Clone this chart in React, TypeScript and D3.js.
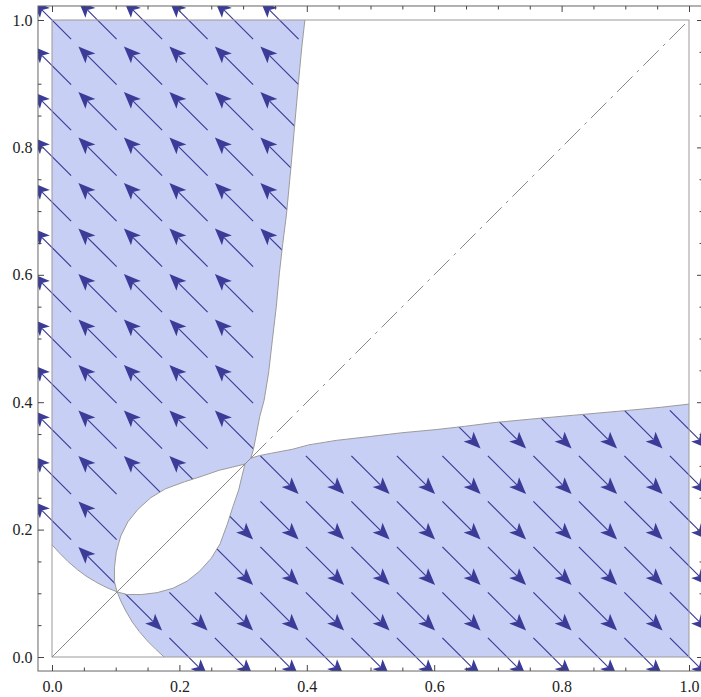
import React, { useEffect, useRef } from 'react';
import * as d3 from 'd3';

type Pt = [number, number];

// Region boundary (data coords). The picture is symmetric in y = x,
// the other half is the same curves with x and y swapped.
// upper curve: from the node on the diagonal up to the top edge
const upperCurve: Pt[] = [
    [0.312, 0.312], [0.316, 0.325], [0.320, 0.345], [0.326, 0.377], [0.333, 0.403],
    [0.340, 0.446], [0.346, 0.498], [0.352, 0.549], [0.357, 0.603], [0.362, 0.647],
    [0.368, 0.694], [0.375, 0.768], [0.380, 0.824], [0.387, 0.903], [0.392, 0.956],
    [0.397, 1.0]
];
// loop, lower-right side: from the lower crossing to the tip of the loop
const loopCurve: Pt[] = [
    [0.103, 0.102], [0.118, 0.098], [0.140, 0.098], [0.165, 0.101], [0.190, 0.108],
    [0.212, 0.119], [0.232, 0.135], [0.250, 0.155], [0.264, 0.178], [0.275, 0.208],
    [0.284, 0.236], [0.293, 0.262], [0.298, 0.283], [0.303, 0.303]
];
// lower-left curve: from the left edge down to the lower crossing
const cornerCurve: Pt[] = [
    [0.0, 0.176], [0.012, 0.163], [0.025, 0.150], [0.040, 0.137], [0.055, 0.126],
    [0.072, 0.116], [0.088, 0.108], [0.103, 0.102]
];

// VectorPoints grid (15 x 15) and frame ticks
const vectorPoints = d3.range(15).map(i => i / 14);
const majorTicks = [0, 0.2, 0.4, 0.6, 0.8, 1.0];
const tickLabels = ['0.0', '0.2', '0.4', '0.6', '0.8', '1.0'];
const minorTicks = [0.05, 0.1, 0.15, 0.25, 0.3, 0.35, 0.45, 0.5, 0.55, 0.65, 0.7, 0.75, 0.85, 0.9, 0.95];

const swap = (pts: Pt[]): Pt[] => pts.map(([a, b]) => [b, a] as Pt);

const App = () => {
    const svgRef = useRef<SVGSVGElement>(null);

    useEffect(() => {
        const width = 701;
        const height = 697;
        const pad = 0.022;
        const arrowHalf = 0.03;

        const fill = '#c8cff4';
        const arrowColor = '#3b3b98';
        const edgeColor = '#9a9a9a';

        const svg = d3.select(svgRef.current);
        svg.selectAll('*').remove();
        svg.attr('width', width).attr('height', height);

        const x = d3.scaleLinear().domain([0, 1]).range([52, 689]);
        const y = d3.scaleLinear().domain([0, 1]).range([657, 20]);

        const fx0 = x(-pad), fx1 = x(1 + pad);
        const fy0 = y(1 + pad), fy1 = y(-pad);

        const line = d3.line<Pt>().x(d => x(d[0])).y(d => y(d[1]));

        const loopLeft = swap(loopCurve).reverse(); // tip -> crossing
        const upperLeft: Pt[] = [
            [0, 1],
            ...upperCurve.slice().reverse(),
            ...loopLeft,
            ...cornerCurve.slice().reverse()
        ];
        const lowerRight = swap(upperLeft);

        const wedge: Pt[] = [...upperCurve, [1, 1], ...swap(upperCurve).reverse()];
        const loop: Pt[] = [...loopCurve, ...loopLeft];
        const corner: Pt[] = [[0, 0], ...cornerCurve, ...swap(cornerCurve).reverse()];

        svg.append('defs').append('clipPath').attr('id', 'frame-clip')
            .append('rect')
            .attr('x', fx0).attr('y', fy0)
            .attr('width', fx1 - fx0).attr('height', fy1 - fy0);

        // shaded region
        [upperLeft, lowerRight].forEach(poly => {
            svg.append('path')
                .attr('d', line(poly) + 'Z')
                .attr('fill', fill)
                .attr('stroke', 'none');
        });

        // arrows
        const arrows: { gx: number; gy: number; dir: number }[] = [];
        vectorPoints.forEach(gx => {
            vectorPoints.forEach(gy => {
                const p: Pt = [Math.min(Math.max(gx, 0.001), 0.999), Math.min(Math.max(gy, 0.001), 0.999)];
                if (d3.polygonContains(upperLeft, p)) arrows.push({ gx, gy, dir: -1 });
                else if (d3.polygonContains(lowerRight, p)) arrows.push({ gx, gy, dir: 1 });
            });
        });

        const arrowGroup = svg.append('g').attr('clip-path', 'url(#frame-clip)');
        const headLen = 17;
        const headHalf = 7;
        const notch = 13;
        arrows.forEach(a => {
            const sx = x(a.gx - a.dir * arrowHalf);
            const sy = y(a.gy + a.dir * arrowHalf);
            const tx = x(a.gx + a.dir * arrowHalf);
            const ty = y(a.gy - a.dir * arrowHalf);
            const len = Math.hypot(tx - sx, ty - sy);
            const ux = (tx - sx) / len;
            const uy = (ty - sy) / len;
            const nx = -uy;
            const ny = ux;

            arrowGroup.append('line')
                .attr('x1', sx).attr('y1', sy)
                .attr('x2', tx - ux * notch).attr('y2', ty - uy * notch)
                .attr('stroke', arrowColor)
                .attr('stroke-width', 1.2);

            const bx = tx - ux * headLen;
            const by = ty - uy * headLen;
            const head = [
                [tx, ty],
                [bx + nx * headHalf, by + ny * headHalf],
                [tx - ux * notch, ty - uy * notch],
                [bx - nx * headHalf, by - ny * headHalf]
            ];
            arrowGroup.append('path')
                .attr('d', 'M' + head.map(p => p.join(',')).join('L') + 'Z')
                .attr('fill', arrowColor);
        });

        // white part of the square covers the arrows
        [wedge, loop, corner].forEach(poly => {
            svg.append('path')
                .attr('d', line(poly) + 'Z')
                .attr('fill', '#ffffff')
                .attr('stroke', 'none');
        });

        // region edges
        svg.append('rect')
            .attr('x', x(0)).attr('y', y(1))
            .attr('width', x(1) - x(0)).attr('height', y(0) - y(1))
            .attr('fill', 'none')
            .attr('stroke', edgeColor)
            .attr('stroke-width', 1);

        [upperCurve, swap(upperCurve), loopCurve, swap(loopCurve), cornerCurve, swap(cornerCurve)].forEach(c => {
            svg.append('path')
                .attr('d', line(c))
                .attr('fill', 'none')
                .attr('stroke', edgeColor)
                .attr('stroke-width', 1);
        });

        // diagonal
        const node = upperCurve[0];
        svg.append('line')
            .attr('x1', x(0)).attr('y1', y(0))
            .attr('x2', x(node[0])).attr('y2', y(node[1]))
            .attr('stroke', '#8a8a8a')
            .attr('stroke-width', 1);
        svg.append('line')
            .attr('x1', x(node[0])).attr('y1', y(node[1]))
            .attr('x2', x(1)).attr('y2', y(1))
            .attr('stroke', '#8a8a8a')
            .attr('stroke-width', 1)
            .attr('stroke-dasharray', '22,6,3,6');

        // frame
        svg.append('rect')
            .attr('x', fx0).attr('y', fy0)
            .attr('width', fx1 - fx0).attr('height', fy1 - fy0)
            .attr('fill', 'none')
            .attr('stroke', '#666')
            .attr('stroke-width', 1);

        const fontFamily = '"Liberation Serif", "Times New Roman", serif';

        const styleAxis = (g: any) => {
            g.select('.domain').remove();
            g.selectAll('line').attr('stroke', '#444');
            g.selectAll('text')
                .attr('font-family', fontFamily)
                .attr('font-size', 16)
                .attr('fill', '#222');
        };

        // bottom
        svg.append('g')
            .attr('transform', `translate(0, ${fy1})`)
            .call(d3.axisBottom(x).tickValues(majorTicks).tickSize(-6).tickPadding(10)
                .tickFormat((d, i) => tickLabels[i]))
            .call(styleAxis);
        svg.append('g')
            .attr('transform', `translate(0, ${fy1})`)
            .call(d3.axisBottom(x).tickValues(minorTicks).tickSize(-3.5).tickFormat(() => ''))
            .call(styleAxis);
        // left
        svg.append('g')
            .attr('transform', `translate(${fx0}, 0)`)
            .call(d3.axisLeft(y).tickValues(majorTicks).tickSize(-6).tickPadding(5.5)
                .tickFormat((d, i) => tickLabels[i]))
            .call(styleAxis);
        svg.append('g')
            .attr('transform', `translate(${fx0}, 0)`)
            .call(d3.axisLeft(y).tickValues(minorTicks).tickSize(-3.5).tickFormat(() => ''))
            .call(styleAxis);
        // top
        svg.append('g')
            .attr('transform', `translate(0, ${fy0})`)
            .call(d3.axisTop(x).tickValues(majorTicks).tickSize(-6).tickFormat(() => ''))
            .call(styleAxis);
        svg.append('g')
            .attr('transform', `translate(0, ${fy0})`)
            .call(d3.axisTop(x).tickValues(minorTicks).tickSize(-3.5).tickFormat(() => ''))
            .call(styleAxis);
        // right
        svg.append('g')
            .attr('transform', `translate(${fx1}, 0)`)
            .call(d3.axisRight(y).tickValues(majorTicks).tickSize(-6).tickFormat(() => ''))
            .call(styleAxis);
        svg.append('g')
            .attr('transform', `translate(${fx1}, 0)`)
            .call(d3.axisRight(y).tickValues(minorTicks).tickSize(-3.5).tickFormat(() => ''))
            .call(styleAxis);
    }, []);

    return (
        <div style={{ position: 'absolute', left: 0, top: 0, width: 701, height: 697 }}>
            <svg ref={svgRef} style={{ display: 'block' }}></svg>
        </div>
    );
};

export default App;
